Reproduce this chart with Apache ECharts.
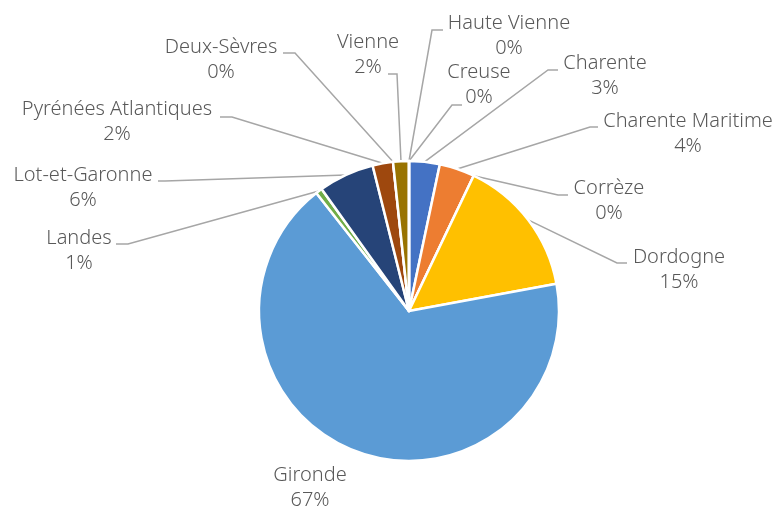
<!DOCTYPE html>
<html>
<head>
<meta charset="utf-8">
<script src="https://cdn.jsdelivr.net/npm/echarts@6/dist/echarts.min.js"></script>
<style>html,body{margin:0;padding:0;background:#fff}#c{width:779px;height:508px}</style>
</head>
<body>
<div id="c"></div>
<script>
// Data (clockwise from 12 o'clock)
const categories = ['Charente', 'Charente Maritime', 'Corrèze', 'Dordogne', 'Gironde', 'Landes',
  'Lot-et-Garonne', 'Pyrénées Atlantiques', 'Deux-Sèvres', 'Vienne', 'Haute Vienne', 'Creuse'];
const values = [3.3, 3.8, 0, 15.0, 67.3, 0.7, 6.0, 2.2, 0, 1.7, 0, 0];
const colors = ['#4472C4', '#ED7D31', '#A5A5A5', '#FFC000', '#5B9BD5', '#70AD47',
  '#264478', '#9E480E', '#636363', '#997300', '#255E91', '#43682B'];

// Label placement (label block centre, leader elbow, leader end) — layout only
const labelSpots = [
  [605, 76, 548, 70, 558],
  [688, 134, 590, 127, 598],
  [609, 201, 558, 195, 568],
  [679, 270, 617, 263, 627],
  [310, 488, null, null, null],
  [79, 251, 128, 244, 116],
  [83, 188, 165, 181, 158],
  [117, 122, 232, 117, 220],
  [221, 60, 295, 53, 283],
  [368, 55, 397, 74, 388],
  [509, 36, 432, 30, 443],
  [479, 85, 452, 105, 462]
];

const chart = echarts.init(document.getElementById('c'));
chart.setOption({
  animation: false,
  series: [{
    type: 'pie',
    center: [409, 311],
    radius: 150,
    startAngle: 90,
    clockwise: true,
    avoidLabelOverlap: false,
    data: categories.map((n, i) => ({ name: n, value: values[i], itemStyle: { color: colors[i] } })),
    itemStyle: { borderColor: '#ffffff', borderWidth: 2.5 },
    label: {
      show: true,
      formatter: p => p.name + '\n' + Math.round(p.percent) + '%',
      color: '#595959',
      fontFamily: 'Noto Sans',
      fontWeight: 300,
      fontSize: 20,
      lineHeight: 25,
      align: 'center'
    },
    labelLine: {
      show: true,
      lineStyle: { color: '#A6A6A6', width: 1.5 }
    },
    labelLayout: function (params) {
      const s = labelSpots[params.dataIndex];
      const out = { x: s[0], y: s[1], align: 'center', verticalAlign: 'middle' };
      if (s[2] === null) {
        out.labelLinePoints = [[0, 0], [0, 0], [0, 0]];
      } else if (params.labelLinePoints) {
        const p0 = params.labelLinePoints[0];
        out.labelLinePoints = [[p0[0], p0[1]], [s[2], s[3]], [s[4], s[3]]];
      }
      return out;
    }
  }]
});
</script>
</body>
</html>
